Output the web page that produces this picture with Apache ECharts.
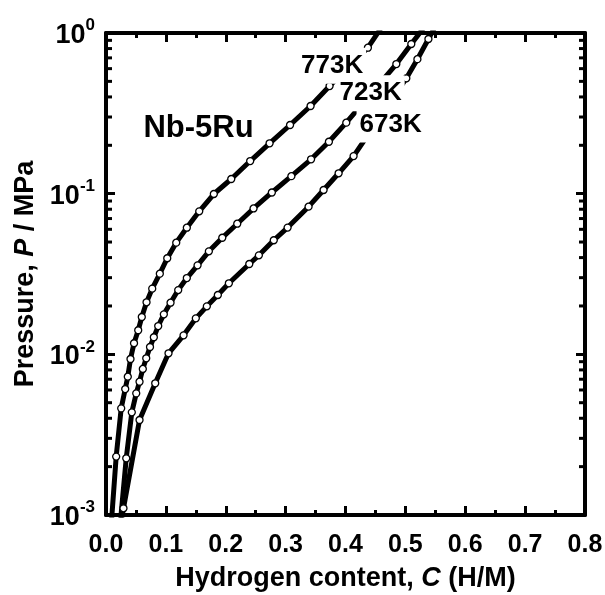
<!DOCTYPE html>
<html>
<head>
<meta charset="utf-8">
<script src="https://cdn.jsdelivr.net/npm/echarts@6/dist/echarts.min.js"></script>
<style>
  html, body { margin: 0; padding: 0; background: #fff; }
  #chart { width: 605px; height: 595px; }
</style>
</head>
<body>
<div id="chart"></div>
<script>
// Pressure–composition isotherms of Nb-5Ru (hydrogen content C in H/M, pressure P in MPa)
const c773 = [0.006, 0.0170, 0.0254, 0.0321, 0.0364, 0.0409, 0.0468, 0.0538, 0.0598, 0.0677, 0.0772, 0.0899,
  0.1023, 0.1173, 0.1350, 0.1557, 0.1801, 0.2092, 0.2408, 0.2732, 0.3074, 0.3417, 0.3734, 0.4374, 0.4626];
const p773 = [0.00063, 0.00231, 0.00461, 0.00608, 0.00726, 0.00935, 0.01172, 0.01412, 0.01708, 0.02108, 0.02564, 0.03177,
  0.03963, 0.04955, 0.06138, 0.07762, 0.0995, 0.1234, 0.1596, 0.2058, 0.2675, 0.3513, 0.4677, 0.810, 1.12];

const c723 = [0.0202, 0.0338, 0.0431, 0.0505, 0.0560, 0.0615, 0.0672, 0.0735, 0.0799, 0.0872, 0.0966, 0.1078,
  0.1206, 0.1350, 0.1529, 0.1718, 0.1942, 0.2192, 0.2464, 0.2770, 0.3096, 0.3425, 0.3723, 0.4013, 0.4849, 0.5099, 0.534];
const p723 = [0.00063, 0.002254, 0.004355, 0.005715, 0.006754, 0.00811, 0.009447, 0.01111, 0.01277, 0.0150, 0.01774, 0.02096,
  0.02512, 0.02984, 0.0358, 0.04376, 0.05318, 0.06502, 0.08088, 0.1017, 0.1285, 0.1637, 0.2104, 0.2766, 0.641, 0.854, 1.12];

const c673 = [0.0175, 0.0292, 0.0560, 0.0822, 0.1044, 0.1295, 0.1500, 0.1684, 0.1868, 0.2052, 0.2393, 0.2553,
  0.2802, 0.3033, 0.3383, 0.3634, 0.3885, 0.4135, 0.5016, 0.5201, 0.5385, 0.5512];
const p673 = [0.00063, 0.001101, 0.003902, 0.006604, 0.01015, 0.01313, 0.01675, 0.0199, 0.0234, 0.02768, 0.0365, 0.04132,
  0.05129, 0.06151, 0.08299, 0.1054, 0.1339, 0.1714, 0.5224, 0.6871, 0.9178, 1.12];

// Text annotations placed in data coordinates
const noteText = ['773K', '723K', '673K', 'Nb-5Ru'];
const noteC = [0.3776, 0.4419, 0.4754, 0.1546];
const noteP = [0.625, 0.422, 0.269, 0.254];
const noteSize = [26, 26, 26, 31];

// Axis ranges and ticks
const xMin = 0, xMax = 0.8, xStep = 0.1;
const yMin = 0.001, yMax = 1;
const yDecades = [0.001, 0.01, 0.1];
const yMinorFactors = [2, 3, 4, 5, 6, 7, 8, 9];

const FONT = '"Liberation Sans", Arial, Helvetica, sans-serif';
const pairs = (xs, ys) => xs.map((x, i) => [x, ys[i]]);

const minorY = [];
yDecades.forEach(d => yMinorFactors.forEach(f => minorY.push([xMin, d * f])));

const chart = echarts.init(document.getElementById('chart'), null, { renderer: 'canvas' });

const lineSeries = (name, data) => ({
  name, type: 'line', data,
  symbol: 'circle', symbolSize: 7, showAllSymbol: true,
  lineStyle: { color: '#000', width: 5 },
  itemStyle: { color: '#fff', borderColor: '#000', borderWidth: 1.3 },
  clip: true, z: 3, animation: false
});

const axisBase = {
  axisLine: { show: true, onZero: false, lineStyle: { color: '#000', width: 4 } },
  splitLine: { show: false }
};

const titleRich = {
  n: { fontSize: 27, fontWeight: 'bold', fontFamily: FONT, color: '#000' },
  i: { fontSize: 27, fontWeight: 'bold', fontStyle: 'italic', fontFamily: FONT, color: '#000' }
};

const option = {
  animation: false,
  grid: { left: 106, right: 20, top: 33, bottom: 80, containLabel: false, outerBoundsMode: 'none' },
  xAxis: [
    Object.assign({}, axisBase, {
      type: 'value', min: xMin, max: xMax, interval: xStep, position: 'bottom',
      axisTick: { inside: true, length: 9, lineStyle: { color: '#000', width: 3 } },
      minorTick: { show: true, splitNumber: 2, length: 5, lineStyle: { color: '#000', width: 3 } },
      axisLabel: { formatter: v => v.toFixed(1), fontSize: 25, fontWeight: 'bold', fontFamily: FONT, color: '#000', margin: 18 },
      name: '{n|Hydrogen content, }{i|C}{n| (H/M)}',
      nameLocation: 'middle', nameGap: 50,
      nameTextStyle: { rich: titleRich }
    }),
    Object.assign({}, axisBase, {
      type: 'value', min: xMin, max: xMax, interval: xStep, position: 'top',
      axisTick: { inside: true, length: 9, lineStyle: { color: '#000', width: 3 } },
      minorTick: { show: true, splitNumber: 2, length: 5, lineStyle: { color: '#000', width: 3 } },
      axisLabel: { show: false }
    })
  ],
  yAxis: [
    Object.assign({}, axisBase, {
      type: 'log', logBase: 10, min: yMin, max: yMax, position: 'left',
      axisTick: { inside: true, length: 9, lineStyle: { color: '#000', width: 3 } },
      axisLabel: {
        formatter: v => '{b|10}{s|' + Math.round(Math.log10(v)) + '}',
        margin: 11,
        rich: {
          b: { fontSize: 27, fontWeight: 'bold', fontFamily: FONT, color: '#000', verticalAlign: 'bottom', lineHeight: 32 },
          s: { fontSize: 17, fontWeight: 'bold', fontFamily: FONT, color: '#000', verticalAlign: 'top', lineHeight: 16 }
        }
      },
      name: '{n|Pressure, }{i|P}{n| / MPa}',
      nameLocation: 'middle', nameGap: 55,
      nameTextStyle: { rich: titleRich }
    }),
    Object.assign({}, axisBase, {
      type: 'log', logBase: 10, min: yMin, max: yMax, position: 'right',
      axisTick: { inside: true, length: 9, lineStyle: { color: '#000', width: 3 } },
      axisLabel: { show: false }
    })
  ],
  series: [
    lineSeries('773K', pairs(c773, p773)),
    lineSeries('723K', pairs(c723, p723)),
    lineSeries('673K', pairs(c673, p673)),
    {
      // log-axis minor ticks (2..9 within each decade) on the left and right frame
      type: 'custom', data: minorY, z: 2, silent: true, animation: false,
      renderItem: (params, api) => {
        const left = api.coord([xMin, api.value(1)]);
        const right = api.coord([xMax, api.value(1)]);
        const st = { stroke: '#000', lineWidth: 3 };
        return {
          type: 'group',
          children: [
            { type: 'line', shape: { x1: left[0], y1: left[1], x2: left[0] + 6, y2: left[1] }, style: st },
            { type: 'line', shape: { x1: right[0], y1: right[1], x2: right[0] - 6, y2: right[1] }, style: st }
          ]
        };
      }
    },
    {
      type: 'scatter', z: 10, silent: true, animation: false,
      symbolSize: 1, itemStyle: { color: 'rgba(0,0,0,0)', opacity: 1 },
      data: noteText.map((t, i) => ({
        name: t, value: [noteC[i], noteP[i]],
        label: { fontSize: noteSize[i] }
      })),
      label: {
        show: true, position: 'inside', formatter: p => p.name,
        fontWeight: 'bold', fontFamily: FONT, color: '#000',
        backgroundColor: '#fff', padding: [3, 3, 7, 3]
      },
      labelLayout: { hideOverlap: false }
    }
  ]
};

chart.setOption(option);
</script>
</body>
</html>
